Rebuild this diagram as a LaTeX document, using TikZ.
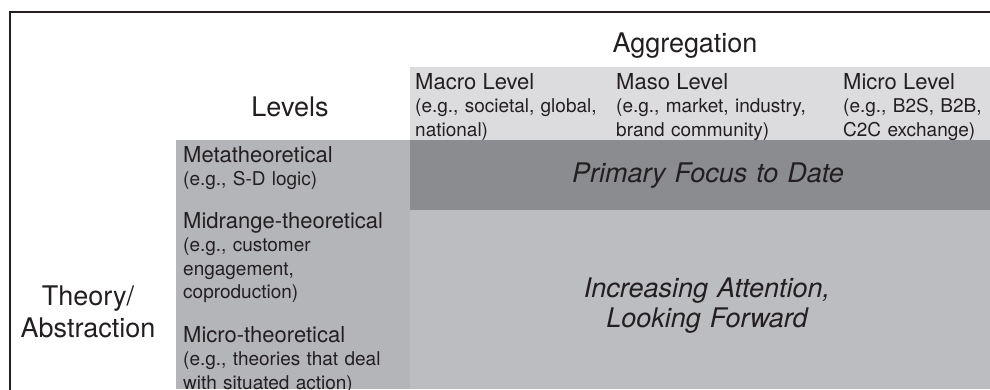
\documentclass[tikz,border=0pt]{standalone}
\usepackage{fontspec}
\setmainfont{TeX Gyre Heros}
\definecolor{bandlight}{RGB}{220,220,222}
\definecolor{colgray}{RGB}{180,181,185}
\definecolor{banddark}{RGB}{139,140,144}
\definecolor{areagray}{RGB}{188,189,192}
\definecolor{ink}{RGB}{35,31,32}
\newcommand{\lvlname}{\fontsize{22}{23.5}\selectfont}
\newcommand{\lvlex}{\fontsize{19}{23.5}\selectfont}
\tikzset{
  head/.style={font=\fontsize{27}{32}\selectfont, text=ink, inner sep=0pt, text width=200pt, align=center, anchor=base},
  focus/.style={font=\fontsize{27}{30}\selectfont\itshape, text=ink, inner sep=0pt, text width=400pt, align=center, anchor=base},
  lvl/.style={font=\lvlex, text=ink, inner sep=0pt, text width=240pt, align=left, anchor=base west},
}
\begin{document}
\begin{tikzpicture}[x=1pt,y=-1pt]
\useasboundingbox (0,0) rectangle (990,389);
\clip (0,0) rectangle (990,389);
\draw [line width=1.6pt, draw=ink] (10,12) rectangle (1010,420);
% bands
\fill [bandlight] (410,67) rectangle (990,140);
\fill [colgray] (176,140) rectangle (410,389);
\fill [banddark] (410,140) rectangle (990,210);
\fill [areagray] (410,210) rectangle (990,389);
% axis labels
\node [head] (aggr) at (685,52) {Aggregation};
\node [head] (levels) at (290,116) {Levels};
\node [head] (theory) at (88,305) {Theory/\\Abstraction};
% aggregation levels
\node [lvl] (macro) at (415,89) {{\lvlname Macro Level}\\(e.g., societal, global,\\national)};
\node [lvl] (maso) at (616,89) {{\lvlname Maso Level}\\(e.g., market, industry,\\brand community)};
\node [lvl] (micro) at (843,89) {{\lvlname Micro Level}\\(e.g., B2S, B2B,\\C2C exchange)};
% theory levels
\node [lvl] (meta) at (183,162) {{\lvlname Metatheoretical}\\(e.g., S-D logic)};
\node [lvl] (midrange) at (183,228) {{\lvlname Midrange-theoretical}\\(e.g., customer\\engagement,\\coproduction)};
\node [lvl] (microth) at (183,342) {{\lvlname Micro-theoretical}\\(e.g., theories that deal\\with situated action)};
% focus areas
\node [focus] (primary) at (708,182) {Primary Focus to Date};
\node [focus] (forward) at (707,297) {Increasing Attention,\\Looking Forward};
\end{tikzpicture}
\end{document}
